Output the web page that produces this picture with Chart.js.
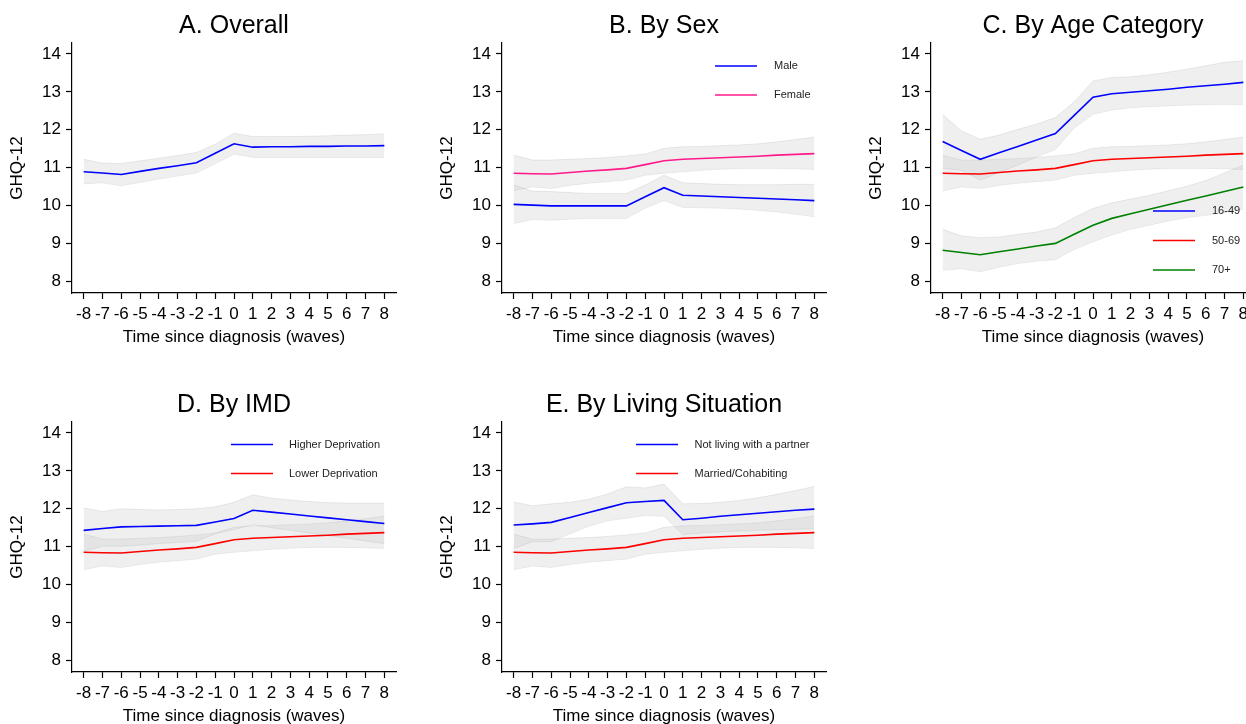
<!DOCTYPE html>
<html>
<head>
<meta charset="utf-8">
<title>GHQ-12 by time since diagnosis</title>
<script src="https://cdn.jsdelivr.net/npm/chart.js@4.4.0/dist/chart.umd.min.js"></script>
<style>
  html, body { margin: 0; padding: 0; background: #fff; overflow: hidden; }
  body { width: 1246px; height: 724px; position: relative; }
  canvas { position: absolute; }
</style>
</head>
<body>
<canvas id="panelA" width="414" height="362" style="left:0px;top:0px"></canvas>
<canvas id="panelB" width="414" height="362" style="left:430px;top:0px"></canvas>
<canvas id="panelC" width="414" height="362" style="left:859px;top:0px"></canvas>
<canvas id="panelD" width="414" height="362" style="left:0px;top:379px"></canvas>
<canvas id="panelE" width="414" height="362" style="left:430px;top:379px"></canvas>
<script>
// x 값: 진단 전후 wave
const waves = [-8, -7, -6, -5, -4, -3, -2, -1, 0, 1, 2, 3, 4, 5, 6, 7, 8];
const yTicks = [8, 9, 10, 11, 12, 13, 14];

// A. Overall
const overallMean = [10.89, 10.86, 10.82, 10.90, 10.98, 11.05, 11.13, 11.38, 11.63, 11.54, 11.55, 11.55, 11.56, 11.56, 11.57, 11.57, 11.58];
const overallHigh = [11.22, 11.12, 11.11, 11.18, 11.25, 11.32, 11.40, 11.62, 11.91, 11.82, 11.82, 11.82, 11.83, 11.84, 11.86, 11.87, 11.89];
const overallLow  = [10.57, 10.60, 10.52, 10.61, 10.70, 10.78, 10.86, 11.10, 11.36, 11.27, 11.27, 11.27, 11.27, 11.27, 11.27, 11.27, 11.27];

// reference group: Female / 50-69 / Lower Deprivation / Married/Cohabiting (same curve in every panel)
const refMean = [10.85, 10.84, 10.83, 10.87, 10.91, 10.94, 10.98, 11.08, 11.18, 11.22, 11.24, 11.26, 11.28, 11.30, 11.33, 11.35, 11.37];
const refHigh = [11.33, 11.20, 11.20, 11.22, 11.24, 11.27, 11.31, 11.36, 11.51, 11.55, 11.56, 11.58, 11.60, 11.63, 11.68, 11.74, 11.81];
const refLow  = [10.39, 10.49, 10.45, 10.53, 10.59, 10.63, 10.67, 10.80, 10.85, 10.89, 10.93, 10.96, 10.98, 10.98, 10.98, 10.97, 10.95];

// B. Male
const maleMean = [10.03, 10.01, 9.99, 9.99, 9.99, 9.99, 9.99, 10.23, 10.47, 10.27, 10.25, 10.23, 10.21, 10.19, 10.17, 10.15, 10.13];
const maleHigh = [10.54, 10.38, 10.37, 10.34, 10.32, 10.32, 10.32, 10.54, 10.80, 10.60, 10.58, 10.56, 10.55, 10.55, 10.55, 10.56, 10.56];
const maleLow  = [9.52, 9.63, 9.61, 9.64, 9.66, 9.66, 9.66, 9.93, 10.13, 9.95, 9.94, 9.93, 9.91, 9.87, 9.83, 9.77, 9.70];

// C. 16-49
const age1649Mean = [11.69, 11.45, 11.22, 11.39, 11.56, 11.73, 11.90, 12.38, 12.86, 12.95, 12.99, 13.03, 13.07, 13.12, 13.16, 13.20, 13.25];
const age1649High = [12.41, 11.97, 11.75, 11.86, 12.01, 12.15, 12.32, 12.74, 13.29, 13.38, 13.40, 13.45, 13.52, 13.60, 13.69, 13.78, 13.82];
const age1649Low  = [10.98, 10.93, 10.67, 10.87, 11.07, 11.28, 11.48, 12.04, 12.41, 12.52, 12.58, 12.61, 12.63, 12.65, 12.66, 12.67, 12.66];
// C. 70+
const age70Mean = [8.82, 8.76, 8.70, 8.78, 8.85, 8.93, 9.00, 9.24, 9.48, 9.66, 9.78, 9.90, 10.02, 10.14, 10.25, 10.37, 10.49];
const age70High = [9.37, 9.20, 9.15, 9.17, 9.24, 9.30, 9.41, 9.68, 9.92, 10.07, 10.17, 10.27, 10.39, 10.51, 10.66, 10.86, 11.07];
const age70Low  = [8.29, 8.33, 8.25, 8.37, 8.47, 8.53, 8.57, 8.84, 9.04, 9.22, 9.37, 9.48, 9.59, 9.68, 9.74, 9.81, 9.90];

// D. Higher Deprivation
const higherDepMean = [11.43, 11.48, 11.52, 11.53, 11.54, 11.55, 11.56, 11.65, 11.74, 11.96, 11.91, 11.86, 11.81, 11.76, 11.71, 11.66, 11.61];
const higherDepHigh = [12.02, 11.93, 12.00, 11.98, 11.97, 11.98, 12.00, 12.05, 12.17, 12.37, 12.28, 12.23, 12.19, 12.16, 12.15, 12.15, 12.15];
const higherDepLow  = [10.88, 11.01, 11.01, 11.04, 11.08, 11.11, 11.14, 11.34, 11.45, 11.58, 11.50, 11.43, 11.36, 11.29, 11.22, 11.15, 11.08];

// E. Not living with a partner
const singleMean = [11.57, 11.60, 11.64, 11.77, 11.90, 12.03, 12.16, 12.19, 12.22, 11.71, 11.75, 11.80, 11.84, 11.88, 11.92, 11.96, 11.99];
const singleHigh = [12.18, 12.08, 12.13, 12.17, 12.25, 12.39, 12.58, 12.55, 12.65, 12.13, 12.14, 12.17, 12.22, 12.29, 12.38, 12.48, 12.59];
const singleLow  = [10.95, 11.13, 11.13, 11.34, 11.54, 11.68, 11.75, 11.82, 11.80, 11.32, 11.36, 11.39, 11.41, 11.43, 11.45, 11.46, 11.47];

const FONT = '"Liberation Sans", Arial, Helvetica, sans-serif';
const BLUE = '#0000ff';
const RED = '#ff0000';
const GREEN = '#008000';
const PINK = '#ff1a8c';
const BAND = 'rgba(200,200,200,0.29)';

function pts(arr) {
    return waves.map((w, i) => ({ x: w, y: arr[i] }));
}

// 신뢰구간 밴드 (위 -> 아래로 채움) + 평균선
function series(mean, high, low, color) {
    return [
        { data: pts(high), fill: '+1', backgroundColor: BAND, borderColor: 'rgba(0,0,0,0.07)', borderWidth: 1, pointRadius: 0, order: 2 },
        { data: pts(low), fill: false, borderColor: 'rgba(0,0,0,0.07)', borderWidth: 1, pointRadius: 0, order: 2 },
        { data: pts(mean), fill: false, borderColor: color, borderWidth: 1.6, pointRadius: 0, order: 1 },
    ];
}

const panelTitle = {
    id: 'panelTitle',
    afterDraw(chart, args, opts) {
        const { ctx, chartArea } = chart;
        ctx.save();
        ctx.font = '25px ' + FONT;
        ctx.fillStyle = '#000';
        ctx.textAlign = 'center';
        ctx.textBaseline = 'middle';
        ctx.fillText(opts.text, (chartArea.left + chartArea.right) / 2, 26.5);
        ctx.restore();
    }
};

const panelLegend = {
    id: 'panelLegend',
    afterDraw(chart, args, opts) {
        if (!opts.items) return;
        const { ctx, chartArea } = chart;
        ctx.save();
        ctx.font = '11px ' + FONT;
        ctx.textBaseline = 'middle';
        ctx.textAlign = 'left';
        opts.items.forEach((it, i) => {
            const y = chartArea.top + opts.y + i * opts.gap;
            ctx.strokeStyle = it.color;
            ctx.lineWidth = 1.6;
            ctx.beginPath();
            ctx.moveTo(chartArea.left + opts.x, y);
            ctx.lineTo(chartArea.left + opts.x + 42, y);
            ctx.stroke();
            ctx.fillStyle = '#222';
            ctx.fillText(it.label, chartArea.left + opts.textX, y);
        });
        ctx.restore();
    }
};

function makePanel(canvasId, titleText, datasets, legend) {
    const ctx = document.getElementById(canvasId).getContext('2d');
    return new Chart(ctx, {
        type: 'line',
        data: { datasets },
        plugins: [panelTitle, panelLegend],
        options: {
            responsive: false,
            animation: false,
            layout: { padding: { top: 43, right: 18, left: 0, bottom: 0 } },
            elements: { line: { tension: 0 } },
            plugins: {
                legend: { display: false },
                tooltip: { enabled: false },
                title: { display: false },
                panelTitle: { text: titleText },
                panelLegend: legend || {},
            },
            scales: {
                x: {
                    type: 'linear',
                    min: -8.62,
                    max: 8.62,
                    afterFit(scale) { scale.height = 69; },
                    border: { display: true, color: '#000', width: 1.2 },
                    grid: { drawOnChartArea: false, drawTicks: true, tickLength: 6, tickColor: '#000', tickWidth: 1.2 },
                    ticks: {
                        stepSize: 1, includeBounds: false, autoSkip: false, maxRotation: 0,
                        padding: 5, color: '#000', font: { family: FONT, size: 17 },
                    },
                    title: {
                        display: true, text: 'Time since diagnosis (waves)', color: '#000',
                        font: { family: FONT, size: 17 }, padding: { top: 0, bottom: 14 },
                    },
                },
                y: {
                    min: 7.69,
                    max: 14.29,
                    afterFit(scale) { scale.width = 72; },
                    afterBuildTicks(scale) { scale.ticks = yTicks.map(v => ({ value: v })); },
                    border: { display: true, color: '#000', width: 1.2 },
                    grid: { drawOnChartArea: false, drawTicks: true, tickLength: 6, tickColor: '#000', tickWidth: 1.2 },
                    ticks: { padding: 5, color: '#000', font: { family: FONT, size: 17 } },
                    title: {
                        display: true, text: 'GHQ-12', color: '#000',
                        font: { family: FONT, size: 17 }, padding: { top: 7, bottom: 0 },
                    },
                },
            },
        },
    });
}

makePanel('panelA', 'A. Overall', series(overallMean, overallHigh, overallLow, BLUE));

makePanel('panelB', 'B. By Sex',
    [...series(maleMean, maleHigh, maleLow, BLUE), ...series(refMean, refHigh, refLow, PINK)],
    { x: 213, textX: 272, y: 23, gap: 29, items: [{ label: 'Male', color: BLUE }, { label: 'Female', color: PINK }] });

makePanel('panelC', 'C. By Age Category',
    [...series(age1649Mean, age1649High, age1649Low, BLUE), ...series(refMean, refHigh, refLow, RED), ...series(age70Mean, age70High, age70Low, GREEN)],
    { x: 222, textX: 281, y: 168, gap: 29.5, items: [{ label: '16-49', color: BLUE }, { label: '50-69', color: RED }, { label: '70+', color: GREEN }] });

makePanel('panelD', 'D. By IMD',
    [...series(higherDepMean, higherDepHigh, higherDepLow, BLUE), ...series(refMean, refHigh, refLow, RED)],
    { x: 159, textX: 217, y: 22.5, gap: 29, items: [{ label: 'Higher Deprivation', color: BLUE }, { label: 'Lower Deprivation', color: RED }] });

makePanel('panelE', 'E. By Living Situation',
    [...series(singleMean, singleHigh, singleLow, BLUE), ...series(refMean, refHigh, refLow, RED)],
    { x: 134, textX: 192.5, y: 22.5, gap: 29, items: [{ label: 'Not living with a partner', color: BLUE }, { label: 'Married/Cohabiting', color: RED }] });
</script>
</body>
</html>
